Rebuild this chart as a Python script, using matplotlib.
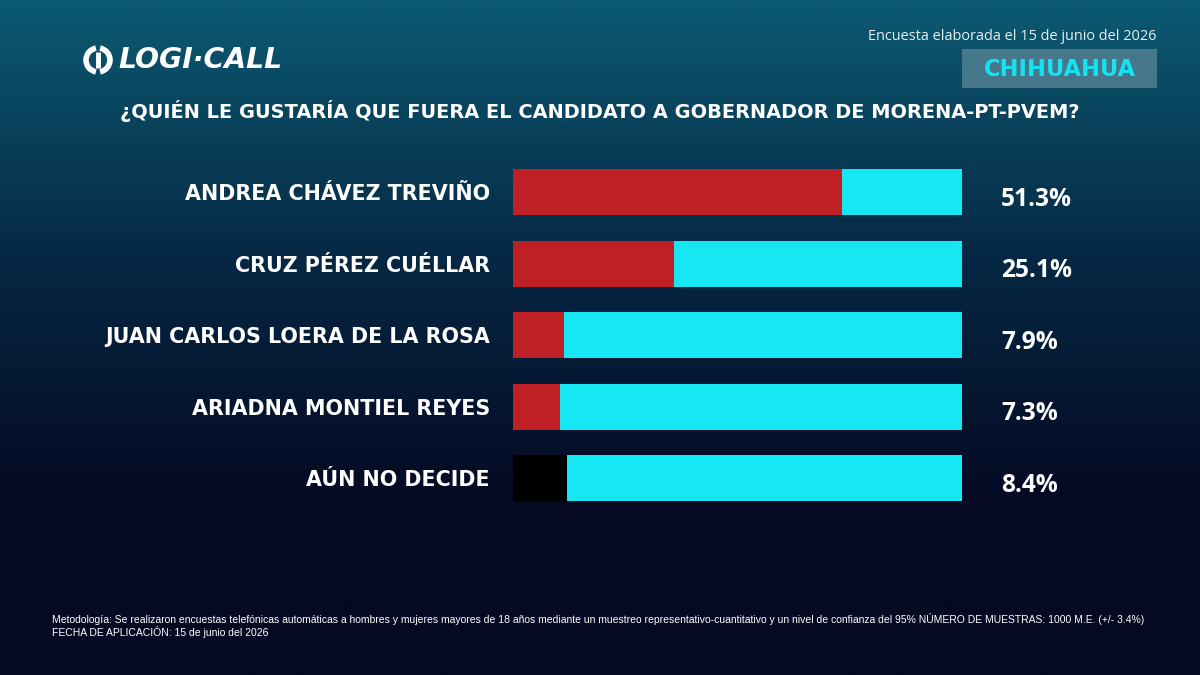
import numpy as np
import matplotlib
matplotlib.use("Agg")
import matplotlib.pyplot as plt
from matplotlib.patches import Rectangle, Arc
import matplotlib.transforms as mtransforms

categories = ["ANDREA CHÁVEZ TREVIÑO", "CRUZ PÉREZ CUÉLLAR",
              "JUAN CARLOS LOERA DE LA ROSA", "ARIADNA MONTIEL REYES", "AÚN NO DECIDE"]
values = [51.3, 25.1, 7.9, 7.3, 8.4]
bar_colors = ["#be2025", "#be2025", "#be2025", "#be2025", "#000000"]
scale_max = 70
value_labels = ["51.3%", "25.1%", "7.9%", "7.3%", "8.4%"]

W, H = 1200, 675
fig = plt.figure(figsize=(12, 6.75), dpi=100)
renderer = fig.canvas.get_renderer()


def fit(txt, target_px):
    """scale a text's font size so its rendered width matches target_px"""
    w = txt.get_window_extent(renderer=renderer).width
    txt.set_fontsize(txt.get_fontsize() * target_px / w)
    return txt.get_fontsize()


# background gradient
bg = fig.add_axes([0, 0, 1, 1])
bg.set_axis_off()
top = np.array([0x0c, 0x5a, 0x72]) / 255
mid = np.array([0x06, 0x26, 0x42]) / 255
bot = np.array([0x05, 0x09, 0x22]) / 255
t = np.linspace(0, 1, 400)[:, None]
grad = np.where(t < 0.4, top + (mid - top) * (t / 0.4),
                mid + (bot - mid) * np.clip((t - 0.4) / 0.35, 0, 1))
img = np.repeat(grad[:, None, :], 2, axis=1)
bg.imshow(img, aspect="auto", extent=[0, W, H, 0])
bg.set_xlim(0, W)
bg.set_ylim(H, 0)

FONT = "DejaVu Sans"

# header texts
t1 = bg.text(1157, 36, "Encuesta elaborada el 15 de junio del 2026", ha="right", va="center",
             color="#e6eef2", fontsize=10.5, family="Open Sans")
fit(t1, 291)
bg.add_patch(Rectangle((962, 49), 195, 39, facecolor="#5a8797", alpha=0.75, edgecolor="none"))
t2 = bg.text(1059.5, 69, "CHIHUAHUA", ha="center", va="center", color="#16e3f2",
             fontsize=15, fontweight="bold", family=FONT)
fit(t2, 151)
t3 = bg.text(600, 111, "¿QUIÉN LE GUSTARÍA QUE FUERA EL CANDIDATO A GOBERNADOR DE MORENA-PT-PVEM?",
             ha="center", va="center", color="white", fontsize=12.5, fontweight="bold", family=FONT)
fit(t3, 966)

# logo
bg.add_patch(Arc((98, 60), 24, 24, theta1=100, theta2=260, lw=4, color="white"))
bg.add_patch(Arc((98, 60), 24, 24, theta1=-80, theta2=80, lw=4, color="white"))
bg.plot([98, 98], [52, 68], color="white", lw=3.5, solid_capstyle="butt")
t4 = bg.text(118, 60, "LOGI·CALL", ha="left", va="center", color="white", fontsize=19,
             fontweight="heavy", style="italic", family="DejaVu Sans")
fit(t4, 164)

# footer
ff = ["Liberation Sans Narrow", "Liberation Sans", "DejaVu Sans"]
f1 = bg.text(52, 619, "Metodología: Se realizaron encuestas telefónicas automáticas a hombres y mujeres mayores de 18 años mediante un muestreo representativo-cuantitativo y un nivel de confianza del 95% NÚMERO DE MUESTRAS: 1000 M.E. (+/- 3.4%)",
             ha="left", va="center", color="white", fontsize=7.2, family=ff)
fs = fit(f1, 1088)
bg.text(52, 632, "FECHA DE APLICACIÓN: 15 de junio del 2026",
        ha="left", va="center", color="white", fontsize=fs, family=ff)

# bar axes
x0, x1 = 513, 962
ytop, ybot = 156.25, 513.75
ax = fig.add_axes([x0 / W, 1 - ybot / H, (x1 - x0) / W, (ybot - ytop) / H])
ax.set_axis_off()
ax.set_xlim(0, scale_max)
n = len(categories)
ax.set_ylim(n - 0.5, -0.5)
ypos = np.arange(n)
bh = 46 / 71.5
ax.barh(ypos, [scale_max] * n, height=bh, color="#15e8f2")
ax.barh(ypos, values, height=bh, color=bar_colors)
tr = mtransforms.blended_transform_factory(ax.transAxes, ax.transData)
lab_texts = []
val_texts = []
for i in range(n):
    lab_texts.append(ax.text(-23 / 449, ypos[i] + 0.03, categories[i], transform=tr,
                             ha="right", va="center", color="white", fontsize=13,
                             fontweight="bold", family=FONT))
    val_texts.append(ax.text(1 + 39 / 449, ypos[i] + 0.1, value_labels[i], transform=tr,
                             ha="left", va="center", color="white", fontsize=16,
                             fontweight="bold", family="Open Sans"))
ls = fit(lab_texts[0], 303)
for tt in lab_texts:
    tt.set_fontsize(ls)
vs = fit(val_texts[0], 71)
for tt in val_texts:
    tt.set_fontsize(vs)

fig.savefig("out.png", dpi=100)
